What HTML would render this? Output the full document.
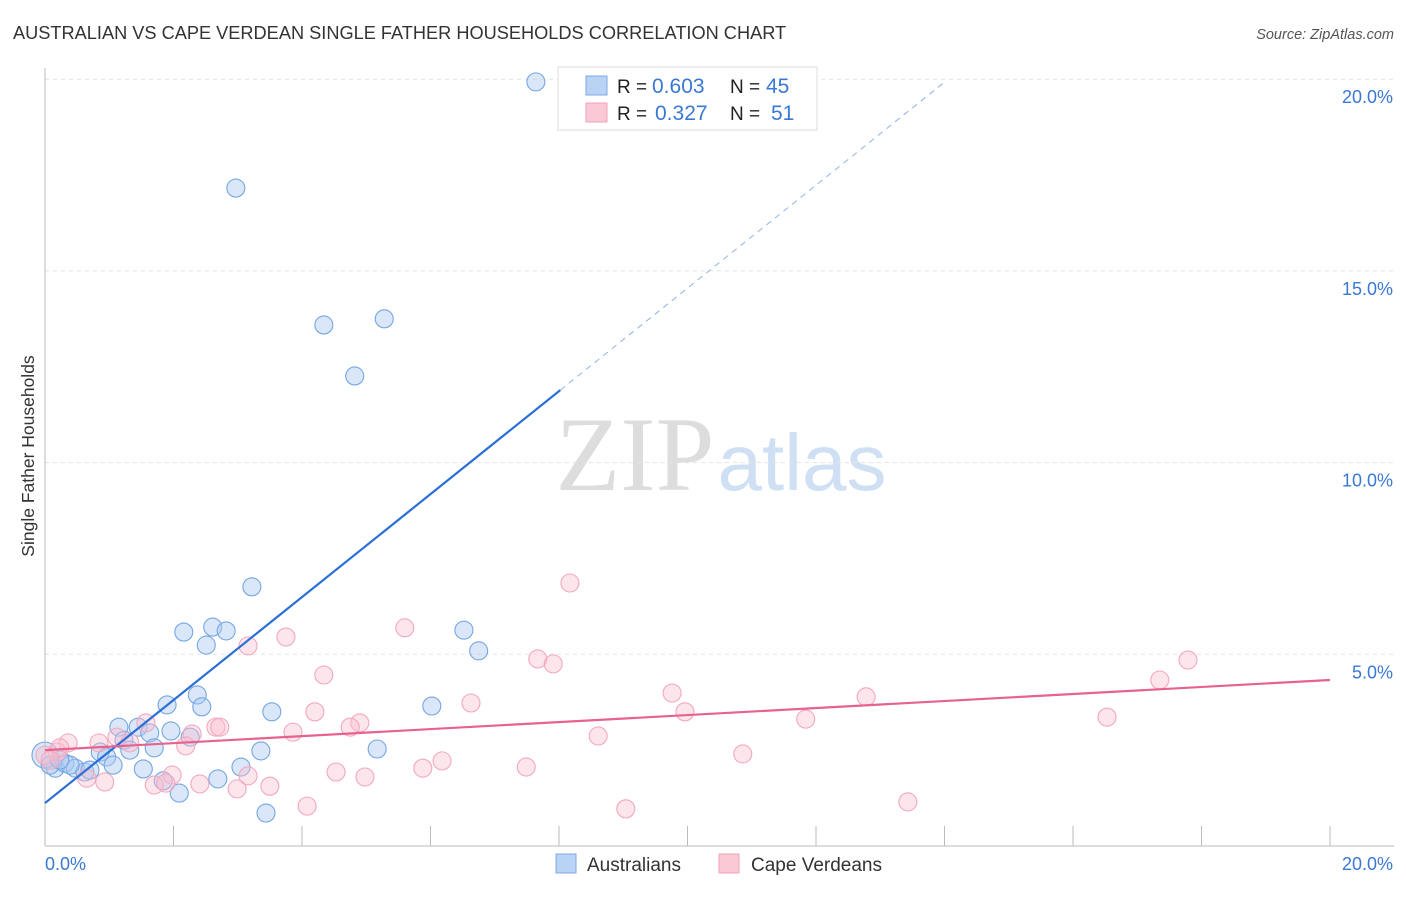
<!DOCTYPE html>
<html><head><meta charset="utf-8">
<style>
body{margin:0;background:#fff;font-family:"Liberation Sans",sans-serif;}
svg text{font-family:"Liberation Sans",sans-serif;}
</style></head>
<body>
<svg id="chart" width="1406" height="892" xmlns="http://www.w3.org/2000/svg">
<text x="13" y="39" font-size="18.2" fill="#333">AUSTRALIAN VS CAPE VERDEAN SINGLE FATHER HOUSEHOLDS CORRELATION CHART</text>
<text x="1394" y="39" font-size="14.5" fill="#555" font-style="italic" text-anchor="end">Source: ZipAtlas.com</text>
<text transform="translate(34,456) rotate(-90)" font-size="17.5" fill="#333" text-anchor="middle">Single Father Households</text>
<g>
<text x="635" y="490" font-size="106" fill="#ddd" text-anchor="middle" style="font-family:'Liberation Serif',serif">ZIP</text>
<text x="802" y="490" font-size="80" fill="#cfe0f4" text-anchor="middle">atlas</text>
</g>
<g id="grid"></g>
<g id="axes"></g>
<g id="pts"></g>
<g id="lines"></g>
<g>
<rect x="558" y="67" width="259" height="63" fill="#fff" stroke="#ddd"/>
<rect x="586" y="76" width="21" height="19" fill="#b9d3f5" stroke="#7eaae6"/>
<rect x="586" y="103" width="21" height="19" fill="#fbc8d6" stroke="#f0a3ba"/>
<text x="617" y="93" font-size="19" fill="#222">R = </text><text x="652" y="93" font-size="21" fill="#3a78d4">0.603</text>
<text x="730" y="93" font-size="19" fill="#222">N = </text><text x="766" y="93" font-size="21" fill="#3a78d4">45</text>
<text x="617" y="120" font-size="19" fill="#222">R = </text><text x="655" y="120" font-size="21" fill="#3a78d4">0.327</text>
<text x="730" y="120" font-size="19" fill="#222">N = </text><text x="771" y="120" font-size="21" fill="#3a78d4">51</text>
</g>
<g>
<rect x="556" y="854" width="20" height="19" fill="#b9d3f5" stroke="#7eaae6"/>
<text x="587" y="871" font-size="19" fill="#333">Australians</text>
<rect x="719" y="854" width="20" height="19" fill="#fbc8d6" stroke="#f0a3ba"/>
<text x="751" y="871" font-size="19" fill="#333">Cape Verdeans</text>
</g>
</svg>
<script>
const blueX=[7.64,2.97,4.34,5.28,4.82,3.22,2.16,2.61,2.82,2.51,6.52,6.75,1.90,2.37,2.44,3.53,6.02,1.15,1.45,1.63,1.96,2.26,1.23,1.70,0.86,1.32,0.96,3.36,5.17,1.06,1.53,3.05,0.16,0.31,0.47,0.62,0.70,1.84,2.69,2.09,3.44,0,0.08,0.39,0.23];
const blueY=[19.93,17.16,13.59,13.75,12.26,6.76,5.58,5.71,5.61,5.24,5.63,5.09,3.68,3.94,3.63,3.50,3.65,3.10,3.10,2.95,3.00,2.84,2.76,2.56,2.45,2.50,2.32,2.48,2.53,2.11,2.01,2.06,2.03,2.16,2.03,1.93,1.98,1.70,1.75,1.38,0.86,2.37,2.11,2.11,2.24];
const pinkX=[8.17,5.60,3.75,3.16,7.67,7.91,17.79,17.35,4.34,9.76,12.78,6.63,4.20,9.96,16.53,11.84,1.57,4.90,4.75,2.66,2.72,2.29,3.86,8.61,1.12,0.84,0.36,1.32,2.19,10.86,0.19,0,6.18,5.88,7.49,4.53,4.98,1.98,3.16,0.65,0.93,1.70,2.41,2.99,3.50,1.88,4.08,9.04,13.43,0.23,0.08];
const pinkY=[6.86,5.69,5.45,5.22,4.88,4.75,4.85,4.33,4.46,3.99,3.89,3.73,3.50,3.50,3.36,3.31,3.21,3.21,3.10,3.10,3.10,2.92,2.97,2.87,2.84,2.69,2.69,2.69,2.61,2.40,2.45,2.37,2.22,2.03,2.06,1.93,1.80,1.85,1.83,1.77,1.67,1.59,1.62,1.49,1.56,1.64,1.04,0.97,1.15,2.56,2.24];
const yTicks=[5,10,15,20];
const yTickLabels=["5.0%","10.0%","15.0%","20.0%"];
const xTickLabels=["0.0%","20.0%"];
const blueTrend=[1.12,1.343];
const pinkTrend=[2.50,0.0915];
const NS="http://www.w3.org/2000/svg";
const X=v=>45+v*64.25, Y=v=>846-v*38.34;
function mk(t,a,p){const e=document.createElementNS(NS,t);for(const k in a)e.setAttribute(k,a[k]);p.appendChild(e);return e;}
const grid=document.getElementById('grid'),axes=document.getElementById('axes');
yTicks.forEach((t,i)=>{
 const l=mk('line',{x1:45,x2:1394,y1:Y(t),y2:Y(t),stroke:'#e4e4e4','stroke-dasharray':'4,4'},grid);
 
 
 const tx=mk('text',{x:1393,y:Y(t)+24,'font-size':18,fill:'#3a78d4','text-anchor':'end'},axes);
 tx.textContent=yTickLabels[i];
 
 
});
const ax=mk('line',{x1:45,x2:45,y1:68,y2:846,stroke:'#bbb'},axes);


const bx=mk('line',{x1:45,x2:1394,y1:846,y2:846,stroke:'#bbb'},axes);


for(let i=1;i<=10;i++){const t=mk('line',{x1:X(i*2),x2:X(i*2),y1:826,y2:846,stroke:'#bbb'},axes);
 
 }
[[0,'start',45],[20,'end',1393]].forEach((d,i)=>{const t=mk('text',{x:d[2],y:870,'font-size':18,fill:'#3a78d4','text-anchor':d[1]},axes);t.textContent=xTickLabels[i];
 
 });
const pts=document.getElementById('pts');
blueX.forEach((v,i)=>{const c=mk('circle',{cx:X(v),cy:Y(blueY[i]),r:(v===0?13:9),fill:'rgba(170,202,242,0.45)',stroke:'#76a6e2','stroke-width':1.1},pts);
 
 });
pinkX.forEach((v,i)=>{const c=mk('circle',{cx:X(v),cy:Y(pinkY[i]),r:9,fill:'rgba(250,190,208,0.4)',stroke:'#f2a8bf','stroke-width':1.1},pts);
 
 });
const lines=document.getElementById('lines');
const b1=mk('line',{x1:X(0),y1:Y(blueTrend[0]),x2:X(8.02),y2:Y(blueTrend[0]+blueTrend[1]*8.02),stroke:'#2a6fd6','stroke-width':2.2},lines);


const b2=mk('line',{x1:X(8.02),y1:Y(blueTrend[0]+blueTrend[1]*8.02),x2:X(14),y2:Y(blueTrend[0]+blueTrend[1]*14),stroke:'#8fb4e6','stroke-width':1,'stroke-dasharray':'6,5'},lines);


const p1=mk('line',{x1:X(0),y1:Y(pinkTrend[0]),x2:X(20),y2:Y(pinkTrend[0]+pinkTrend[1]*20),stroke:'#e8628e','stroke-width':2.2},lines);


</script>
</body></html>
